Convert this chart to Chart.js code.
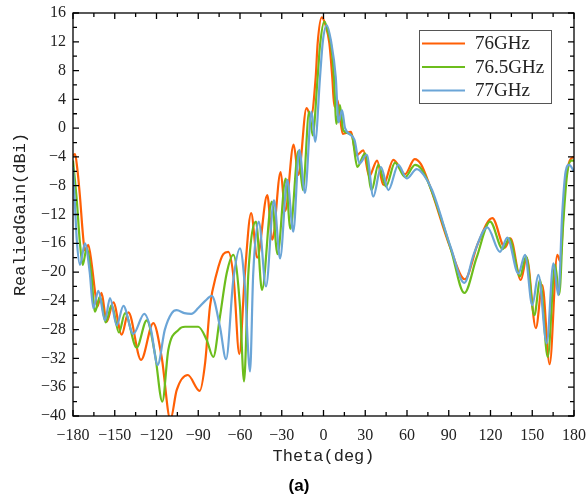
<!DOCTYPE html>
<html>
<head>
<meta charset="utf-8">
<script src="https://cdn.jsdelivr.net/npm/chart.js@4.4.1/dist/chart.umd.min.js"></script>
<style>
html,body{margin:0;padding:0;background:#fff;}
#wrap{width:587px;height:500px;}
</style>
</head>
<body>
<div id="wrap"><canvas id="c" width="587" height="500"></canvas></div>
<script>
const seriesLabels = ['76GHz', '76.5GHz', '77GHz'];
const seriesColors = ['#ff5f05', '#6cbd1c', '#6ba5d7'];

const theta76 = [-180, -178.5, -177, -175, -173, -171.5, -169, -166.5, -164, -162.5, -159.5, -155.8, -151, -145, -140.2, -131.1, -122.3, -116.3, -110, -105.5, -97.5, -89, -85, -81.6, -76.8, -72, -68.4, -64.5, -60.5, -56.4, -52, -47.6, -40.4, -36.8, -30.8, -27.5, -21.5, -18, -12.2, -9, -5.6, -4.2, -1.3, 1.5, 4.2, 6.3, 7.8, 10, 13.8, 19.8, 23.5, 28.6, 32.8, 38.5, 43, 50.2, 58.6, 65.5, 70, 76.5, 90.9, 101.5, 111, 121.3, 130.4, 134.3, 141.8, 146, 152.6, 157.2, 162.5, 168, 170, 173.5, 177, 180];
const gain76 = [-3.8, -3.6, -5.5, -9.5, -14.5, -17, -16.2, -19, -23, -24.8, -22.9, -26.9, -24.2, -28.7, -25.6, -32.2, -27.1, -31.8, -40.5, -36.4, -34.3, -36.5, -32.5, -24.8, -20.2, -17.5, -17.2, -21, -31.4, -20, -11.8, -18, -9.3, -15.5, -6.1, -11.5, -2.3, -6.5, 2.8, 1.6, 7.1, 11.8, 15.4, 14.3, 11.8, 7.1, 3.0, 3.9, -0.8, -0.5, -3.8, -3.1, -6.7, -4.5, -7.9, -4.4, -6.4, -4.3, -5, -8.1, -16.5, -21, -16, -12.5, -16.6, -15.3, -21.1, -18, -27.8, -21.8, -32.8, -17.6, -18.5, -8, -4.5, -4];

const theta765 = [-180, -177.3, -175, -173, -170.2, -167, -164.2, -160.6, -156.5, -152.2, -147, -142.6, -134.3, -127, -121, -115.8, -111.5, -104, -99.5, -90, -84, -79.2, -74.4, -69.6, -64.8, -60, -57.1, -54, -48.5, -44.2, -37.2, -33, -27.2, -23.8, -18.1, -14.8, -10.3, -7.8, -4.2, -2.5, 0.6, 3.5, 5.5, 7.5, 9.3, 11.8, 14.2, 20.3, 24.3, 29.8, 34.6, 39.4, 44.9, 51.4, 58.6, 65.8, 70, 77.5, 91.5, 101.2, 110, 119.7, 128.8, 133.5, 141.2, 145.6, 151.5, 155.6, 161.1, 166.4, 169.4, 172, 175, 178, 180];
const gain765 = [-4.5, -10, -16, -19, -16.7, -20, -25.5, -23.4, -27, -24.6, -28.4, -25.7, -30.5, -26.7, -31.5, -38, -30.8, -28, -27.6, -27.6, -29.4, -31.8, -26.2, -20.2, -17.6, -24.8, -35.2, -20.2, -13, -22.5, -10.2, -17.5, -7, -14, -3.2, -8.6, 2.3, -1, 7.1, 11.5, 14.8, 13.2, 11.5, 7.1, 0.6, 3.2, -0.3, -1, -5.4, -3.5, -8.6, -5.1, -8.1, -4.8, -6.8, -5.1, -5.6, -8.6, -16.8, -22.9, -18, -13, -16.8, -15.3, -20.6, -17.8, -26, -21.1, -31.8, -19, -23.1, -14, -6.5, -4.5, -4.5];

const theta77 = [-180, -178.5, -177.3, -175, -171.4, -168, -165.4, -161.8, -157, -153.4, -148.6, -143.8, -136.7, -128.8, -124, -119.2, -114, -109, -105.5, -100, -95, -90, -85, -80.3, -74.4, -70, -64.8, -60, -56.5, -52.8, -50.5, -46.5, -41.3, -35.6, -31.2, -26, -21.7, -17.4, -13.3, -8.6, -6, -2.5, -0.5, 2.3, 5.5, 8.8, 10.8, 13.3, 15.5, 22.2, 25.8, 31.1, 35.8, 41.3, 46.6, 53.8, 59.8, 67, 72, 78, 91.5, 101.2, 108, 117.7, 126.8, 132.1, 140, 144.8, 150, 154.4, 160.4, 165.2, 168.8, 171.5, 174, 176.5, 180];
const gain77 = [-5.4, -11, -15.5, -19, -16, -20, -25, -22.6, -26.7, -23.6, -27.4, -24.7, -28.6, -25.8, -28, -32.9, -28, -25.7, -25.3, -25.7, -25.8, -25, -24, -23.3, -27.6, -32.1, -21.1, -16.7, -22, -33.8, -20.2, -13, -22, -10, -18.1, -7.2, -14.4, -3, -9, 2.3, -1.9, 7.1, 12, 14.3, 12, 7.1, 0.8, 2.5, 0, -1.6, -4.9, -3.7, -9.5, -5.4, -8.6, -5.1, -7, -5.7, -6.5, -8.6, -16.6, -21.5, -17.5, -13.8, -17.2, -15.2, -20.2, -17.6, -24.6, -20.4, -29.9, -18.8, -23.2, -12, -6, -5.1, -6];

const xTickValues = [-180, -150, -120, -90, -60, -30, 0, 30, 60, 90, 120, 150, 180];
const yTickValues = [16, 12, 8, 4, 0, -4, -8, -12, -16, -20, -24, -28, -32, -36, -40];

function pts(t, g) { return t.map((v, i) => ({x: v, y: g[i]})); }
const allSeries = [[theta76, gain76], [theta765, gain765], [theta77, gain77]];

const minus = v => String(v).replace('-', '\u2212');

const decor = {
  id: 'decor',
  afterDraw(chart) {
    const {ctx, chartArea: a, scales: {x, y}} = chart;
    ctx.save();
    ctx.strokeStyle = '#000';
    ctx.lineWidth = 1.3;
    ctx.strokeRect(a.left, a.top, a.right - a.left, a.bottom - a.top);
    ctx.beginPath();
    const xs = xTickValues;
    for (let i = 0; i < xs.length; i++) {
      const vals = [xs[i]];
      if (i < xs.length - 1) vals.push((xs[i] + xs[i + 1]) / 2);
      vals.forEach((v, k) => {
        const px = x.getPixelForValue(v);
        const len = k === 0 ? 6 : 4;
        ctx.moveTo(px, a.bottom); ctx.lineTo(px, a.bottom - len);
        ctx.moveTo(px, a.top); ctx.lineTo(px, a.top + len);
      });
    }
    const ys = yTickValues;
    for (let i = 0; i < ys.length; i++) {
      const vals = [ys[i]];
      if (i < ys.length - 1) vals.push((ys[i] + ys[i + 1]) / 2);
      vals.forEach((v, k) => {
        const py = y.getPixelForValue(v);
        const len = k === 0 ? 6 : 4;
        ctx.moveTo(a.left, py); ctx.lineTo(a.left + len, py);
        ctx.moveTo(a.right, py); ctx.lineTo(a.right - len, py);
      });
    }
    ctx.stroke();

    // legend
    const bx = 419, by = 30, bw = 132, bh = 73;
    ctx.fillStyle = '#fff';
    ctx.fillRect(bx, by, bw, bh);
    ctx.strokeStyle = '#555';
    ctx.lineWidth = 1;
    ctx.strokeRect(bx + 0.5, by + 0.5, bw, bh);
    ctx.font = '19px "Liberation Serif"';
    ctx.textBaseline = 'middle';
    ctx.textAlign = 'left';
    chart.data.datasets.forEach((ds, i) => {
      const ry = 43.5 + i * 23.5;
      ctx.strokeStyle = ds.borderColor;
      ctx.lineWidth = 2.2;
      ctx.beginPath();
      ctx.moveTo(422, ry); ctx.lineTo(465, ry);
      ctx.stroke();
      ctx.fillStyle = '#222';
      ctx.fillText(ds.label, 475, ry + 1);
    });

    ctx.fillStyle = '#000';
    ctx.font = 'bold 17px "Liberation Sans"';
    ctx.textAlign = 'center';
    ctx.fillText('(a)', 299, 486);
    ctx.restore();
  }
};

new Chart(document.getElementById('c'), {
  type: 'line',
  data: {
    datasets: allSeries.map((s, i) => ({
      label: seriesLabels[i],
      data: pts(s[0], s[1]),
      borderColor: seriesColors[i],
      backgroundColor: seriesColors[i],
      borderWidth: 2.2,
      pointRadius: 0,
      cubicInterpolationMode: 'monotone',
      fill: false,
      order: 3 - i
    }))
  },
  options: {
    responsive: false,
    animation: false,
    events: [],
    layout: {padding: {left: 0, right: 13, top: 13, bottom: 29}},
    plugins: {legend: {display: false}, tooltip: {enabled: false}},
    scales: {
      x: {
        type: 'linear', min: -180, max: 180,
        afterBuildTicks: s => { s.ticks = xTickValues.map(v => ({value: v})); },
        afterFit: s => { s.height = 55; s.paddingLeft = 0; s.paddingRight = 0; },
        grid: {display: false, drawTicks: false},
        border: {display: false},
        ticks: {color: '#222', padding: 10, maxRotation: 0, autoSkip: false, font: {family: '"Liberation Serif"', size: 16}, callback: v => minus(v)},
        title: {display: true, text: 'Theta(deg)', color: '#222', font: {family: '"Liberation Mono"', size: 17}, padding: {top: 0, bottom: 4}}
      },
      y: {
        type: 'linear', min: -40, max: 16,
        afterBuildTicks: s => { s.ticks = yTickValues.map(v => ({value: v})); },
        afterFit: s => { s.width = 73; s.paddingTop = 0; s.paddingBottom = 0; },
        grid: {display: false, drawTicks: false},
        border: {display: false},
        ticks: {color: '#222', padding: 7, autoSkip: false, font: {family: '"Liberation Serif"', size: 16}, callback: v => minus(v)},
        title: {display: true, text: 'RealiedGain(dBi)', color: '#222', font: {family: '"Liberation Mono"', size: 17}, padding: {top: 10, bottom: 0}}
      }
    }
  },
  plugins: [decor]
});
</script>
</body>
</html>
